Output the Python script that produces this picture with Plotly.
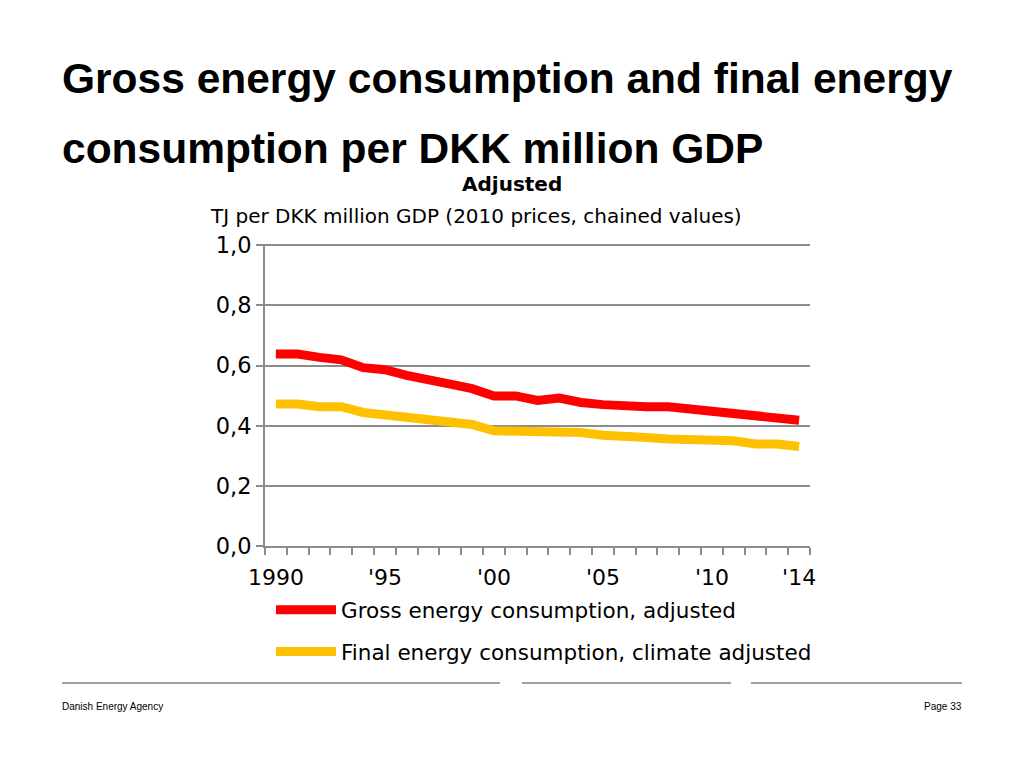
import plotly.graph_objects as go

years = list(range(1990, 2015))
gross_adjusted = [0.638, 0.638, 0.627, 0.619, 0.593, 0.586, 0.567, 0.556, 0.538, 0.523,
                  0.499, 0.499, 0.484, 0.492, 0.477, 0.470, 0.463, 0.463, 0.463, 0.456,
                  0.450, 0.444, 0.431, 0.424, 0.418]
final_climate = [0.472, 0.472, 0.463, 0.463, 0.444, 0.436, 0.431, 0.424, 0.413, 0.404,
                 0.383, 0.383, 0.377, 0.377, 0.377, 0.368, 0.361, 0.361, 0.356, 0.356,
                 0.350, 0.350, 0.339, 0.339, 0.331]
x_tick_years = [1990, 1995, 2000, 2005, 2010, 2014]
x_tick_labels = ["1990", "'95", "'00", "'05", "'10", "'14"]
y_ticks = [0.0, 0.2, 0.4, 0.6, 0.8, 1.0]
y_tick_labels = ["0,0", "0,2", "0,4", "0,6", "0,8", "1,0"]

GRID = "#8c8c8c"
FONT = "Verdana, DejaVu Sans, sans-serif"
TITLE_FONT = "Liberation Sans, Arial, sans-serif"

fig = go.Figure()
fig.add_scatter(x=years, y=gross_adjusted, mode="lines",
                name="Gross energy consumption, adjusted", legendgroup="g",
                line=dict(color="#ff0000", width=9))
fig.add_scatter(x=years, y=final_climate, mode="lines",
                name="Final energy consumption, climate adjusted", legendgroup="f",
                line=dict(color="#ffc000", width=9))

fig.update_layout(
    width=1024, height=768,
    margin=dict(l=257, r=222, t=236, b=230),
    paper_bgcolor="white", plot_bgcolor="white",
    font=dict(family=FONT, color="black", size=20),
    showlegend=True,
    legend=dict(x=0.011, y=-0.143, xanchor="left", yanchor="top",
                font=dict(size=21.5), tracegroupgap=11, itemwidth=60,
                bgcolor="rgba(0,0,0,0)"),
    xaxis=dict(
        range=[1989.5, 2014.5], tickvals=x_tick_years, ticktext=x_tick_labels,
        ticks="outside", ticklen=11, tickcolor="rgba(0,0,0,0)",
        showgrid=False, zeroline=False,
        showline=True, linecolor=GRID, linewidth=2,
        tickfont=dict(size=22),
        minor=dict(tickvals=[y - 0.5 for y in years] + [2014.5],
                   ticks="outside", ticklen=7, tickwidth=1.5, tickcolor=GRID,
                   showgrid=False),
    ),
    yaxis=dict(
        range=[0, 1.004], tickvals=y_ticks, ticktext=y_tick_labels,
        ticks="outside", ticklen=7, tickwidth=2, tickcolor=GRID,
        showgrid=True, gridcolor=GRID, gridwidth=2,
        zeroline=False, showline=True, linecolor=GRID, linewidth=2,
        tickfont=dict(size=22.5),
    ),
)

fig.add_annotation(text="<b>Gross energy consumption and final energy</b>",
                   xref="paper", yref="paper", x=-0.3756, y=1.0, yshift=166,
                   xanchor="left", yanchor="middle", showarrow=False,
                   font=dict(family=TITLE_FONT, size=42.5))
fig.add_annotation(text="<b>consumption per DKK million GDP</b>",
                   xref="paper", yref="paper", x=-0.3756, y=1.0, yshift=96,
                   xanchor="left", yanchor="middle", showarrow=False,
                   font=dict(family=TITLE_FONT, size=42.5))
fig.add_annotation(text="<b>Adjusted</b>", xref="paper", yref="paper",
                   x=0.453, y=1.0, yshift=60, xanchor="center", yanchor="middle",
                   showarrow=False, font=dict(size=20))
fig.add_annotation(text="TJ per DKK million GDP (2010 prices, chained values)",
                   xref="paper", yref="paper", x=0.387, y=1.0, yshift=28,
                   xanchor="center", yanchor="middle", showarrow=False,
                   font=dict(size=20))

# footer rules and text
for x0, x1 in [(62, 500), (522, 731), (751, 962)]:
    fig.add_shape(type="line", xref="paper", yref="paper",
                  x0=(x0 - 265) / 545, x1=(x1 - 265) / 545,
                  y0=-(683 - 546) / 302, y1=-(683 - 546) / 302,
                  line=dict(color="#a0a0a0", width=2))
fig.add_annotation(text="Danish Energy Agency", xref="paper", yref="paper",
                   x=(60 - 265) / 545, y=-(706 - 546) / 302, xanchor="left",
                   yanchor="middle", showarrow=False,
                   font=dict(family=TITLE_FONT, size=10))
fig.add_annotation(text="Page 33", xref="paper", yref="paper",
                   x=(964 - 265) / 545, y=-(706 - 546) / 302, xanchor="right",
                   yanchor="middle", showarrow=False,
                   font=dict(family=TITLE_FONT, size=10))

fig.write_html("out.html")
